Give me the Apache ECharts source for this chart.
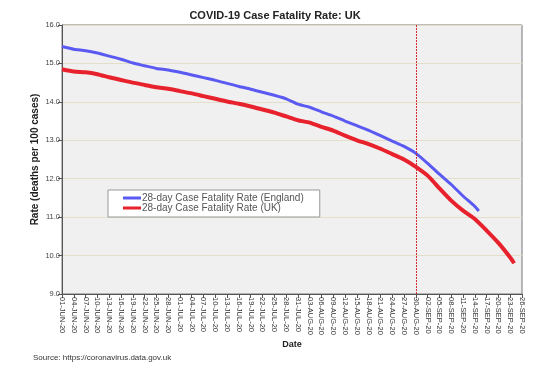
<!DOCTYPE html>
<html>
<head>
<meta charset="utf-8">
<script src="https://cdn.jsdelivr.net/npm/echarts@6/dist/echarts.min.js"></script>
<style>
  html, body { margin: 0; padding: 0; background: #fff; }
  #chart { width: 550px; height: 375px; }
</style>
</head>
<body>
<div id="chart"></div>
<script>
  // x axis: days since 01-JUN-20, a tick every 3 days
  const tickLabels = [
    '01-JUN-20', '04-JUN-20', '07-JUN-20', '10-JUN-20', '13-JUN-20', '16-JUN-20', '19-JUN-20',
    '22-JUN-20', '25-JUN-20', '28-JUN-20', '01-JUL-20', '04-JUL-20', '07-JUL-20', '10-JUL-20',
    '13-JUL-20', '16-JUL-20', '19-JUL-20', '22-JUL-20', '25-JUL-20', '28-JUL-20', '31-JUL-20',
    '03-AUG-20', '06-AUG-20', '09-AUG-20', '12-AUG-20', '15-AUG-20', '18-AUG-20', '21-AUG-20',
    '24-AUG-20', '27-AUG-20', '30-AUG-20', '02-SEP-20', '05-SEP-20', '08-SEP-20', '11-SEP-20',
    '14-SEP-20', '17-SEP-20', '20-SEP-20', '23-SEP-20', '26-SEP-20'
  ]
  const markerDay = 90 // 30-AUG-20

  // 28-day CFR England
  const engDays = [0, 3, 6, 9, 12, 15, 18, 21, 24, 27, 30, 33, 36, 39, 42, 45, 48, 51, 54, 57,
    60, 63, 66, 69, 72, 75, 78, 81, 84, 87, 90, 93, 96, 99, 102, 105, 106]
  const engRate = [15.44, 15.37, 15.33, 15.27, 15.19, 15.11, 15.01, 14.94, 14.87, 14.83,
    14.77, 14.70, 14.63, 14.56, 14.48, 14.40, 14.33, 14.25, 14.17, 14.08,
    13.94, 13.86, 13.74, 13.63, 13.50, 13.38, 13.26, 13.12, 12.98, 12.84,
    12.66, 12.40, 12.12, 11.85, 11.55, 11.28, 11.16]

  // 28-day CFR UK
  const ukDays = [0, 3, 6, 9, 12, 15, 18, 21, 24, 27, 30, 33, 36, 39, 42, 45, 48, 51, 54, 57,
    60, 63, 66, 69, 72, 75, 78, 81, 84, 87, 90, 93, 96, 99, 102, 105, 108, 111, 114, 115]
  const ukRate = [14.85, 14.79, 14.77, 14.72, 14.64, 14.57, 14.50, 14.44, 14.38, 14.34,
    14.28, 14.22, 14.15, 14.08, 14.01, 13.95, 13.88, 13.80, 13.72, 13.62,
    13.52, 13.46, 13.35, 13.25, 13.12, 13.00, 12.90, 12.78, 12.64, 12.50,
    12.31, 12.08, 11.75, 11.43, 11.17, 10.95, 10.65, 10.33, 9.95, 9.80]

  const pair = (xs, ys) => xs.map((d, i) => [d, ys[i]])

  const chart = echarts.init(document.getElementById('chart'))
  const font = 'Liberation Sans, Arial, sans-serif'

  chart.setOption({
    animation: false,
    textStyle: { fontFamily: font },
    title: {
      text: 'COVID-19 Case Fatality Rate: UK',
      left: 'center',
      top: 5,
      textStyle: { fontSize: 11, fontWeight: 'bold', color: '#222', fontFamily: font }
    },
    grid: {
      left: 62, right: 28, top: 25, bottom: 81,
      show: true,
      backgroundColor: '#f0f0f0',
      borderColor: '#777',
      borderWidth: 1
    },
    legend: {
      orient: 'vertical',
      left: 108,
      top: 190,
      backgroundColor: '#fff',
      borderColor: '#999',
      borderWidth: 1,
      padding: [3, 16, 4, 15],
      itemGap: 0,
      itemWidth: 18,
      itemHeight: 3,
      icon: 'rect',
      textStyle: { fontSize: 10, color: '#555', fontFamily: font, padding: [0, 0, 0, -4] },
      data: ['28-day Case Fatality Rate (England)', '28-day Case Fatality Rate (UK)']
    },
    xAxis: {
      type: 'value',
      min: 0,
      max: 117,
      interval: 3,
      name: 'Date',
      nameLocation: 'middle',
      nameGap: 46,
      nameMoveOverlap: false,
      nameTextStyle: { fontSize: 9, fontWeight: 'bold', color: '#222' },
      axisLine: { lineStyle: { color: '#555' } },
      axisTick: { show: true, length: 4, lineStyle: { color: '#555' } },
      axisLabel: {
        rotate: -90,
        fontSize: 7.5,
        color: '#333',
        margin: 3,
        formatter: v => tickLabels[Math.round(v / 3)]
      },
      splitLine: { show: false }
    },
    yAxis: {
      type: 'value',
      min: 9,
      max: 16,
      interval: 1,
      name: 'Rate (deaths per 100 cases)',
      nameLocation: 'middle',
      nameGap: 22,
      nameMoveOverlap: false,
      nameTextStyle: { fontSize: 10, fontWeight: 'bold', color: '#222' },
      axisLine: { show: true, lineStyle: { color: '#555' } },
      axisTick: { show: true, length: 4, lineStyle: { color: '#555' } },
      axisLabel: {
        fontSize: 7.5,
        color: '#444',
        margin: 2,
        formatter: v => v.toFixed(1)
      },
      splitLine: { lineStyle: { color: '#e2dec8', width: 1 } }
    },
    series: [
      {
        name: '28-day Case Fatality Rate (England)',
        type: 'line',
        data: pair(engDays, engRate),
        showSymbol: false,
        smooth: 0.2,
        color: '#5a5af2',
        lineStyle: { width: 3, color: '#5a5af2' },
        z: 3
      },
      {
        name: '28-day Case Fatality Rate (UK)',
        type: 'line',
        data: pair(ukDays, ukRate),
        showSymbol: false,
        smooth: 0.2,
        color: '#e8222c',
        lineStyle: { width: 4, color: '#e8222c' },
        z: 2,
        markLine: {
          silent: true,
          symbol: 'none',
          label: { show: false },
          lineStyle: { color: '#d42a35', type: [2, 1], width: 1 },
          data: [{ xAxis: markerDay }]
        }
      }
    ],
    graphic: [
      {
        type: 'text',
        left: 33,
        top: 354,
        style: {
          text: 'Source: https://coronavirus.data.gov.uk',
          fontSize: 8,
          fill: '#333',
          fontFamily: font
        }
      }
    ]
  })
</script>
</body>
</html>
